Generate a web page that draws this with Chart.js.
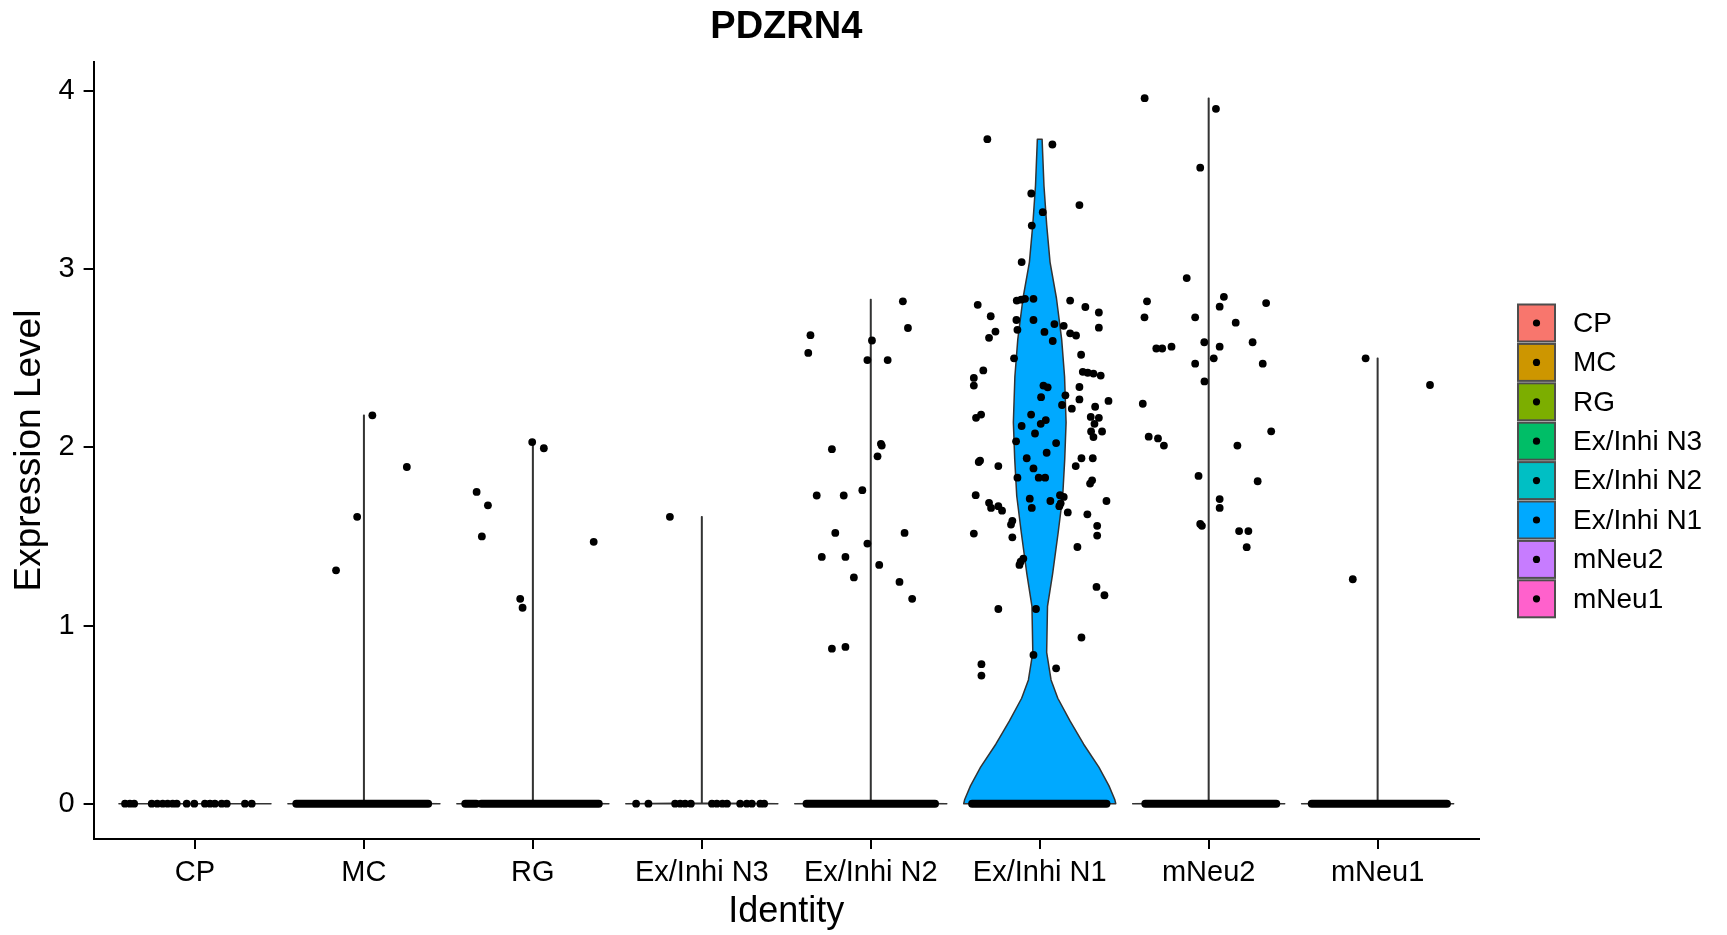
<!DOCTYPE html>
<html>
<head>
<meta charset="utf-8">
<title>PDZRN4</title>
<script src="https://cdn.jsdelivr.net/npm/chart.js@4.4.1/dist/chart.umd.min.js"></script>
<style>
  html, body { margin: 0; padding: 0; background: #fff; }
  #wrap { width: 1727px; height: 935px; position: relative; }
</style>
</head>
<body>
<div id="wrap"><canvas id="vln"></canvas></div>
<script>
// PDZRN4 violin plot
const geneName = 'PDZRN4';
const categories = ['CP', 'MC', 'RG', 'Ex/Inhi N3', 'Ex/Inhi N2', 'Ex/Inhi N1', 'mNeu2', 'mNeu1'];
const clusterColors = ['#F8766D', '#CD9600', '#7CAE00', '#00BE67', '#00BFC4', '#00A9FF', '#C77CFF', '#FF61CC'];
const yTicks = [0, 1, 2, 3, 4];
const violinMax = [0, 2.18, 2.03, 1.61, 2.83, 3.73, 3.96, 2.50];

// Ex/Inhi N1 outline: [expression, half width]
const n1Profile = [
  [0, 0.45], [0.024, 0.444], [0.10, 0.41], [0.205, 0.35], [0.334, 0.26], [0.463, 0.18],
  [0.592, 0.107], [0.695, 0.067], [0.85, 0.041], [1.108, 0.046], [1.289, 0.076], [1.521, 0.109],
  [1.727, 0.136], [1.934, 0.148], [2.14, 0.156], [2.398, 0.147], [2.605, 0.13], [2.837, 0.099],
  [3.04, 0.061], [3.25, 0.041], [3.47, 0.025], [3.73, 0.014]
];

// cells as [jitter, expression]
const cpPoints = [
  [-0.414, 0], [-0.385, 0], [-0.36, 0], [-0.256, 0], [-0.223, 0], [-0.191, 0], [-0.162, 0],
  [-0.132, 0], [-0.108, 0], [-0.049, 0], [-0.004, 0], [0.059, 0], [0.089, 0], [0.118, 0],
  [0.158, 0], [0.188, 0], [0.296, 0], [0.336, 0]
];
const mcPoints = [[0.05, 2.18], [0.254, 1.89], [-0.04, 1.61], [-0.165, 1.31]];
const rgPoints = [
  [-0.004, 2.03], [0.065, 1.995], [-0.333, 1.75], [-0.266, 1.675], [-0.302, 1.50],
  [0.36, 1.47], [-0.075, 1.15], [-0.061, 1.10]
];
const n3Points = [
  [-0.189, 1.61],
  [-0.389, 0], [-0.316, 0], [-0.158, 0], [-0.128, 0], [-0.099, 0], [-0.065, 0], [0.06, 0],
  [0.089, 0], [0.122, 0], [0.149, 0], [0.227, 0], [0.266, 0], [0.296, 0], [0.346, 0], [0.369, 0]
];
const n2Points = [
  [0.19, 2.82], [0.22, 2.67], [-0.357, 2.63], [-0.37, 2.53], [0.007, 2.60], [-0.02, 2.49],
  [0.10, 2.49], [0.06, 2.02], [0.065, 2.01], [0.04, 1.95], [-0.23, 1.99], [-0.05, 1.76],
  [-0.32, 1.73], [-0.16, 1.73], [-0.21, 1.52], [0.20, 1.52], [-0.02, 1.46], [-0.29, 1.385],
  [-0.15, 1.385], [0.05, 1.34], [-0.10, 1.27], [0.17, 1.245], [0.245, 1.15], [-0.23, 0.87],
  [-0.15, 0.88]
];
const n1Points = [
  [-0.31, 3.73], [0.075, 3.70], [-0.05, 3.425], [0.018, 3.32], [0.235, 3.36], [-0.047, 3.245],
  [-0.107, 3.04], [-0.367, 2.80], [-0.29, 2.736], [-0.262, 2.65], [-0.30, 2.615],
  [-0.136, 2.824], [-0.11, 2.829], [-0.087, 2.834], [-0.037, 2.834], [-0.138, 2.715],
  [-0.037, 2.715], [-0.132, 2.66], [0.028, 2.648], [0.077, 2.597], [0.087, 2.692], [0.142, 2.682],
  [0.18, 2.824], [0.27, 2.788], [0.35, 2.757], [0.35, 2.672], [0.18, 2.64], [0.215, 2.628],
  [0.245, 2.52], [-0.152, 2.50], [-0.334, 2.432], [-0.39, 2.39], [-0.39, 2.347],
  [0.255, 2.424], [0.284, 2.419], [0.318, 2.414], [0.361, 2.403], [0.022, 2.347], [0.047, 2.337],
  [0.008, 2.282], [0.235, 2.339], [0.235, 2.269], [0.152, 2.292], [0.132, 2.238], [0.19, 2.217],
  [0.407, 2.261], [0.328, 2.228], [-0.347, 2.184], [-0.377, 2.166], [-0.051, 2.184],
  [0.302, 2.171], [0.35, 2.166], [0.324, 2.132], [-0.107, 2.12], [0.036, 2.153], [0.006, 2.132],
  [-0.028, 2.078], [0.369, 2.089], [0.304, 2.089], [0.318, 2.058], [-0.14, 2.034], [0.097, 2.024],
  [0.041, 1.97], [-0.077, 1.939], [-0.353, 1.926], [-0.361, 1.918], [0.247, 1.939], [0.314, 1.939],
  [-0.245, 1.895], [0.213, 1.895], [-0.037, 1.882], [-0.132, 1.83], [-0.006, 1.83], [0.032, 1.83],
  [0.31, 1.815], [0.298, 1.797], [-0.379, 1.732], [-0.059, 1.712], [-0.047, 1.66], [0.063, 1.699],
  [0.12, 1.732], [0.142, 1.722], [0.124, 1.686], [0.116, 1.67], [0.395, 1.699], [-0.30, 1.689],
  [-0.288, 1.66], [-0.245, 1.67], [-0.223, 1.645], [0.166, 1.635], [0.282, 1.624], [-0.162, 1.588],
  [-0.17, 1.567], [-0.39, 1.516], [-0.162, 1.495], [0.34, 1.56], [0.34, 1.505], [0.223, 1.441],
  [-0.097, 1.376], [-0.113, 1.358], [-0.12, 1.34], [0.336, 1.217], [0.383, 1.17], [-0.245, 1.093],
  [-0.022, 1.093], [0.247, 0.933], [-0.037, 0.835], [-0.345, 0.783], [-0.345, 0.719], [0.097, 0.76]
];
const mneu2Points = [
  [-0.379, 3.96], [0.043, 3.90], [-0.05, 3.57], [-0.13, 2.95], [-0.365, 2.82], [0.09, 2.845],
  [0.065, 2.79], [0.34, 2.81], [-0.38, 2.73], [-0.08, 2.73], [0.16, 2.70], [-0.31, 2.555],
  [-0.275, 2.555], [-0.22, 2.565], [-0.026, 2.59], [0.065, 2.565], [0.26, 2.59], [0.03, 2.50],
  [-0.08, 2.47], [0.32, 2.47], [-0.025, 2.37], [-0.39, 2.245], [-0.355, 2.06], [-0.30, 2.05],
  [-0.265, 2.01], [0.37, 2.09], [0.17, 2.01], [-0.06, 1.84], [0.29, 1.81], [0.065, 1.71],
  [0.065, 1.66], [-0.05, 1.57], [-0.04, 1.56], [0.18, 1.53], [0.235, 1.53], [0.225, 1.44]
];
const mneu1Points = [[-0.071, 2.50], [0.31, 2.35], [-0.147, 1.26]];

// packed rows of zero-valued cells, [from, to] jitter
const zeroRuns = [
  [],
  [[-0.40, 0.38]],
  [[-0.40, -0.335], [-0.305, 0.39]],
  [],
  [[-0.38, 0.38]],
  [[-0.40, 0.395]],
  [[-0.375, 0.40]],
  [[-0.39, 0.41]]
];

const pointSets = [cpPoints, mcPoints, rgPoints, n3Points, n2Points, n1Points, mneu2Points, mneu1Points];

const fontFamily = '"Liberation Sans", Arial, sans-serif';
Chart.defaults.font.family = fontFamily;
Chart.defaults.color = '#000';

function violinShape(i) {
  if (i === 5) return n1Profile;
  if (violinMax[i] > 0) return [[0, 0.45], [0.004, 0.0015], [violinMax[i], 0.0015]];
  return [[0, 0.45]];
}

const violinPlugin = {
  id: 'violins',
  beforeDatasetsDraw(chart) {
    const { ctx, scales: { x, y } } = chart;
    ctx.save();
    ctx.lineJoin = 'round';
    categories.forEach((cat, i) => {
      const prof = violinShape(i);
      const c = i + 1;
      ctx.beginPath();
      prof.forEach(([v, w], k) => {
        const px = x.getPixelForValue(c - w), py = y.getPixelForValue(v);
        if (k === 0) ctx.moveTo(px, py); else ctx.lineTo(px, py);
      });
      for (let k = prof.length - 1; k >= 0; k--) {
        ctx.lineTo(x.getPixelForValue(c + prof[k][1]), y.getPixelForValue(prof[k][0]));
      }
      ctx.closePath();
      ctx.fillStyle = clusterColors[i];
      ctx.fill();
      ctx.strokeStyle = '#333';
      ctx.lineWidth = 1.5;
      ctx.stroke();
    });
    ctx.restore();
  }
};

const titleLegendPlugin = {
  id: 'titleLegend',
  afterDraw(chart) {
    const { ctx, chartArea } = chart;
    ctx.save();
    ctx.fillStyle = '#000';
    ctx.font = 'bold 38px ' + fontFamily;
    ctx.textAlign = 'center';
    ctx.textBaseline = 'alphabetic';
    ctx.fillText(geneName, (chartArea.left + chartArea.right) / 2, 38);

    const keyLeft = chartArea.right + 39, keyTop = 304.5, keySize = 37, pitch = 39.4;
    ctx.font = '28px ' + fontFamily;
    ctx.textAlign = 'left';
    ctx.textBaseline = 'middle';
    categories.forEach((cat, i) => {
      const top = keyTop + i * pitch;
      ctx.fillStyle = clusterColors[i];
      ctx.fillRect(keyLeft, top, keySize, keySize);
      ctx.strokeStyle = '#4d4d4d';
      ctx.lineWidth = 2;
      ctx.strokeRect(keyLeft, top, keySize, keySize);
      ctx.fillStyle = '#000';
      ctx.beginPath();
      ctx.arc(keyLeft + keySize / 2, top + keySize / 2, 3.6, 0, Math.PI * 2);
      ctx.fill();
      ctx.fillText(cat, keyLeft + keySize + 18, top + keySize / 2 + 1);
    });
    ctx.restore();
  }
};

const datasets = [];
const scatterData = [];
pointSets.forEach((pts, i) => {
  pts.forEach(([dx, v]) => scatterData.push({ x: i + 1 + dx, y: v }));
});
datasets.push({
  type: 'scatter',
  data: scatterData,
  pointRadius: 3.9,
  pointHoverRadius: 3.9,
  pointBackgroundColor: '#000',
  pointBorderWidth: 0
});
zeroRuns.forEach((runs, i) => {
  runs.forEach(([a, b]) => {
    datasets.push({
      type: 'line',
      data: [{ x: i + 1 + a, y: 0 }, { x: i + 1 + b, y: 0 }],
      borderColor: '#000',
      borderWidth: 8,
      borderCapStyle: 'round',
      pointRadius: 0,
      fill: false
    });
  });
});

new Chart(document.getElementById('vln').getContext('2d'), {
  type: 'scatter',
  data: { datasets: datasets },
  options: {
    responsive: true,
    maintainAspectRatio: false,
    animation: false,
    layout: { padding: { top: 62, right: 248, bottom: 0, left: 0 } },
    plugins: {
      legend: { display: false },
      tooltip: { enabled: false },
      title: { display: false }
    },
    scales: {
      x: {
        type: 'linear',
        min: 0.4,
        max: 8.6,
        afterBuildTicks: (s) => { s.ticks = categories.map((c, i) => ({ value: i + 1 })); },
        afterFit: (s) => { s.height = 96; },
        ticks: {
          callback: (v) => categories[Math.round(v) - 1],
          font: { size: 29 },
          color: '#000',
          padding: 7,
          maxRotation: 0,
          autoSkip: false
        },
        grid: { drawOnChartArea: false, drawTicks: true, tickLength: 10, color: '#000', lineWidth: 2 },
        border: { display: true, color: '#000', width: 2 },
        title: { display: true, text: 'Identity', font: { size: 36 }, color: '#000', padding: { top: 0, bottom: 1 } }
      },
      y: {
        type: 'linear',
        min: -0.198,
        max: 4.163,
        afterBuildTicks: (s) => { s.ticks = yTicks.map((v) => ({ value: v })); },
        afterFit: (s) => { s.width = 93.6; },
        ticks: { font: { size: 29 }, color: '#000', padding: 9 },
        grid: { drawOnChartArea: false, drawTicks: true, tickLength: 10, color: '#000', lineWidth: 2 },
        border: { display: true, color: '#000', width: 2 },
        title: { display: true, text: 'Expression Level', font: { size: 37 }, color: '#000', padding: { top: 8, bottom: 0 } }
      }
    }
  },
  plugins: [violinPlugin, titleLegendPlugin]
});
</script>
</body>
</html>
